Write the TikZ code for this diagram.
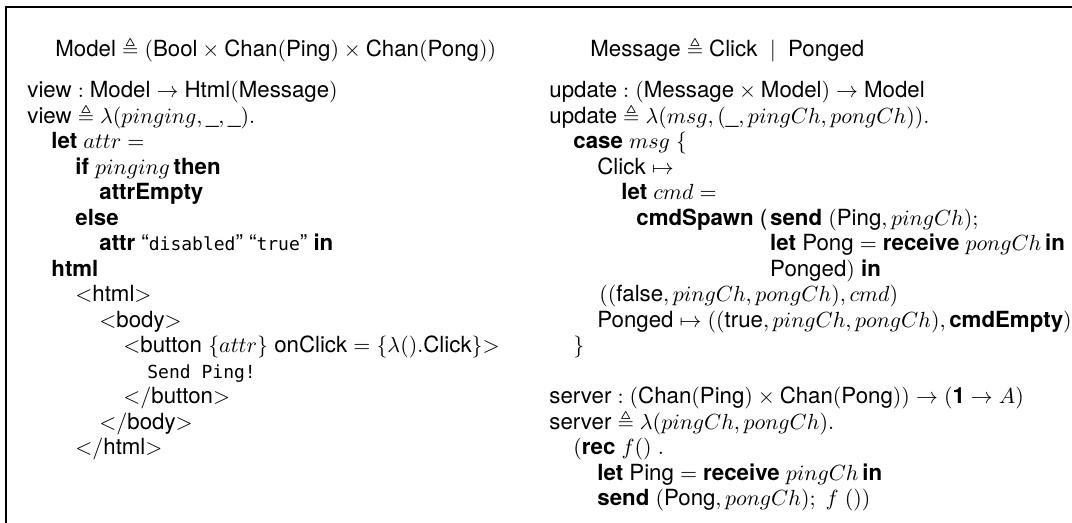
\documentclass[tikz,border=0pt]{standalone}
\usepackage{amssymb}
\usepackage{fontspec}
\setmainfont{TeX Gyre Heros}[Scale=1.06]
\setsansfont{TeX Gyre Heros}[Scale=1.06]
\setmonofont{DejaVu Sans Mono}
\usepackage{tikz}
\usetikzlibrary{positioning}

\newcommand{\w}[1]{\textsf{#1}}
\newcommand{\kw}[1]{\textsf{\bfseries #1}}
\newcommand{\lit}[1]{\texttt{\fontsize{9}{11}\selectfont #1}}
\newcommand{\strlit}[1]{\textsf{``}\lit{#1}\textsf{''}}

\begin{document}
\begin{tikzpicture}[x=0.5pt, y=-0.5pt,
    code/.style={anchor=base west, inner sep=0pt, font=\fontsize{10.5}{12.6}\selectfont}]

                    \useasboundingbox (0, 0) rectangle (1072, 523);

                    \draw[line width=1pt]
                    (6, 523) -- (6, 7) -- (1072, 7);

                    \node[code] (modeldef) at (55, 57) {$\w{Model} \triangleq (\w{Bool} \times \w{Chan}(\w{Ping}) \times \w{Chan}(\w{Pong}))$};
                    \node[code] (msgdef) at (590, 57) {$\w{Message} \triangleq \w{Click}\ \mid\ \w{Ponged}$};

                    % view
                    \node[code] (viewty) at (27, 98) {$\w{view} : \w{Model} \rightarrow \w{Html}(\w{Message})$};
                    \node[code] (viewdef) at (27, 123.5) {$\w{view} \triangleq \lambda(pinging, \_, \_).$};
                    \node[code] (letattr) at (51, 149) {$\kw{let}\ attr =$};
                    \node[code] (ifping) at (75, 174.5) {$\kw{if}\ pinging\,\kw{then}$};
                    \node[code] (attrempty) at (99, 200) {\kw{attrEmpty}};
                    \node[code] (elsekw) at (75, 225.5) {\kw{else}};
                    \node[code] (attrdis) at (99, 251) {\kw{attr} \strlit{disabled} \strlit{true} \kw{in}};
                    \node[code] (htmlkw) at (51, 276.5) {\kw{html}};
                    \node[code] (htmlopen) at (75, 302) {${<}\w{html}{>}$};
                    \node[code] (bodyopen) at (99, 327.5) {${<}\w{body}{>}$};
                    \node[code] (btnopen) at (123, 353) {${<}\w{button}\ \{attr\}\ \w{onClick} = \{\lambda().\w{Click}\}{>}$};
                    \node[code] (btntext) at (147, 378.5) {\lit{Send Ping!}};
                    \node[code] (btnclose) at (123, 404) {${<}/\w{button}{>}$};
                    \node[code] (bodyclose) at (99, 429.5) {${<}/\w{body}{>}$};
                    \node[code] (htmlclose) at (75, 455) {${<}/\w{html}{>}$};

                    % update
                    \node[code] (updty) at (549, 98) {$\w{update} : (\w{Message} \times \w{Model}) \rightarrow \w{Model}$};
                    \node[code] (upddef) at (549, 123.5) {$\w{update} \triangleq \lambda(msg, (\_, pingCh, pongCh)).$};
                    \node[code] (casekw) at (573, 149) {$\kw{case}\ msg\ \{$};
                    \node[code] (clickarm) at (597, 174.5) {$\w{Click} \mapsto$};
                    \node[code] (letcmd) at (621, 200) {$\kw{let}\ cmd =$};
                    \node[code] (spawn) at (636, 225.5) {\kw{cmdSpawn} (};
                    \node[code, base right=1pt of spawn] (sendping) {$\kw{send}\ (\w{Ping}, pingCh);$};
                    \node[code] (letpong) at ([yshift=-12.75pt]sendping.base west) {$\kw{let}\ \w{Pong} = \kw{receive}\ pongCh\,\kw{in}$};
                    \node[code] (pongedin) at ([yshift=-12.75pt]letpong.base west) {$\w{Ponged})\ \kw{in}$};
                    \node[code] (falseres) at (599, 302) {$((\w{false}, pingCh, pongCh), cmd)$};
                    \node[code] (pongedarm) at (597, 327.5) {$\w{Ponged} \mapsto ((\w{true}, pingCh, pongCh), \kw{cmdEmpty})$};
                    \node[code] (caseend) at (573, 353) {$\}$};

                    % server
                    \node[code] (servty) at (549, 404) {$\w{server} : (\w{Chan}(\w{Ping}) \times \w{Chan}(\w{Pong})) \rightarrow (\mathbf{1} \rightarrow A)$};
                    \node[code] (servdef) at (549, 429.5) {$\w{server} \triangleq \lambda(pingCh, pongCh).$};
                    \node[code] (reckw) at (573, 455) {$(\kw{rec}\ f()\ .$};
                    \node[code] (letping) at (597, 480.5) {$\kw{let}\ \w{Ping} = \kw{receive}\ pingCh\,\kw{in}$};
                    \node[code] (sendpong) at (597, 506) {$\kw{send}\ (\w{Pong}, pongCh);\ f\ ())$};
                \end{tikzpicture}
\end{document}
